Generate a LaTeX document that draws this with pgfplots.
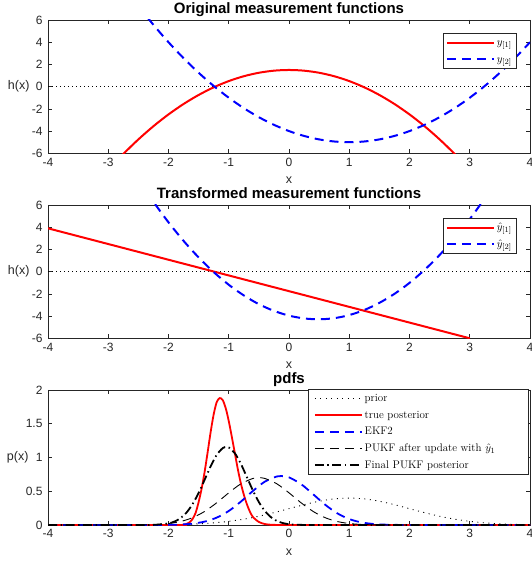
\documentclass[border=0pt]{standalone}
\usepackage{fontspec}
\setsansfont{Liberation Sans}
\usepackage{pgfplots}
\pgfplotsset{compat=1.18}
\definecolor{axgray}{gray}{0.15}
\pgfplotsset{
 base/.style={
  scale only axis, width=482pt,
  xmin=-4, xmax=4, xtick={-4,-3,...,4},
  tick align=inside, major tick length=4pt,
  axis line style={axgray, line width=0.6pt},
  every tick/.style={axgray, line width=0.6pt},
  tick label style={font=\sffamily\fontsize{12}{14}\selectfont, text=axgray},
  /pgf/number format/assume math mode=true,
  xticklabel style={yshift=-1pt}, yticklabel style={xshift=-2pt},
  every axis title/.style={at={(0.5,1)}, anchor=base, yshift=6pt, font=\sffamily\bfseries\fontsize{15}{17}\selectfont},
  every axis x label/.style={at={(axis description cs:0.5,0)}, anchor=base, yshift=-30pt, font=\sffamily\fontsize{12.5}{14}\selectfont, text=axgray},
  every axis y label/.style={at={(axis description cs:0,0.5)}, anchor=east, xshift=-15pt, font=\sffamily\fontsize{12.5}{14}\selectfont, text=axgray},
  xlabel={x},
  legend style={draw=axgray, fill=white, line width=0.6pt, font=\fontsize{11}{13}\selectfont, legend cell align=left, inner xsep=3pt, inner ysep=1pt, nodes={inner sep=2pt, text height=9.3pt, text depth=3.3pt}},
  legend image code/.code={\draw[#1] (0pt,0pt) -- (47pt,0pt);},
 }
}
\begin{document}
\begin{tikzpicture}
% ---------------- Panel 1 ----------------
\begin{axis}[base, at={(48pt,407.7pt)}, anchor=south west, height=133.3pt,
  ymin=-6, ymax=6, ytick={-6,-4,...,6},
  title={Original measurement functions}, ylabel={h(x)},
  legend style={at={(1,1)}, anchor=north east, xshift=-13pt, yshift=-13pt}]
\addplot[black, line width=0.9pt, dash pattern=on 1pt off 3pt, forget plot] coordinates {(-4,0) (4,0)};
\addplot[red, line width=2pt, smooth] coordinates {
(-3,-7.5) (-2.75,-6.0625) (-2.5,-4.75) (-2.25,-3.5625) (-2,-2.5) (-1.75,-1.5625) (-1.5,-0.75) (-1.25,-0.0625)
(-1,0.5) (-0.75,0.9375) (-0.5,1.25) (-0.25,1.4375) (0,1.5) (0.25,1.4375) (0.5,1.25) (0.75,0.9375) (1,0.5)
(1.25,-0.0625) (1.5,-0.75) (1.75,-1.5625) (2,-2.5) (2.25,-3.5625) (2.5,-4.75) (2.75,-6.0625) (3,-7.5)};
\addlegendentry{$y_{[1]}$}
\addplot[blue, line width=2pt, dash pattern=on 9pt off 6pt, smooth] coordinates {
(-2.5,7.25) (-2.25,5.5625) (-2,4) (-1.75,2.5625) (-1.5,1.25) (-1.25,0.0625) (-1,-1) (-0.75,-1.9375)
(-0.5,-2.75) (-0.25,-3.4375) (0,-4) (0.25,-4.4375) (0.5,-4.75) (0.75,-4.9375) (1,-5) (1.25,-4.9375)
(1.5,-4.75) (1.75,-4.4375) (2,-4) (2.25,-3.4375) (2.5,-2.75) (2.75,-1.9375) (3,-1) (3.25,0.0625)
(3.5,1.25) (3.75,2.5625) (4,4)};
\addlegendentry{$y_{[2]}$}
\end{axis}
% ---------------- Panel 2 ----------------
\begin{axis}[base, at={(48pt,222.7pt)}, anchor=south west, height=133.3pt,
  ymin=-6, ymax=6, ytick={-6,-4,...,6},
  title={Transformed measurement functions}, ylabel={h(x)},
  legend style={at={(1,1)}, anchor=north east, xshift=-13pt, yshift=-13pt}]
\addplot[black, line width=0.9pt, dash pattern=on 1pt off 3pt, forget plot] coordinates {(-4,0) (4,0)};
\addplot[red, line width=2pt] coordinates {(-4,3.9) (3,-6)};
\addlegendentry{$\hat{y}_{[1]}$}
\addplot[blue, line width=2pt, dash pattern=on 9pt off 6pt, smooth] coordinates {
(-2.5,8.32) (-2.25,6.29) (-2,4.44) (-1.75,2.77) (-1.5,1.28) (-1.25,-0.04) (-1,-1.18) (-0.75,-2.14)
(-0.5,-2.93) (-0.25,-3.53) (0,-3.96) (0.25,-4.21) (0.5,-4.29) (0.75,-4.19) (1,-3.91) (1.25,-3.45)
(1.5,-2.81) (1.75,-2.00) (2,-1.01) (2.25,0.16) (2.5,1.50) (2.75,3.03) (3,4.73) (3.25,6.61) (3.5,8.66)};
\addlegendentry{$\hat{y}_{[2]}$}
\end{axis}
% ---------------- Panel 3 ----------------
\begin{axis}[base, at={(48pt,36pt)}, anchor=south west, height=135pt,
  ymin=0, ymax=2, ytick={0,0.5,1,1.5,2},
  title={pdfs}, ylabel={p(x)},
  every axis y label/.append style={xshift=-1pt},
  legend style={at={(1,1)}, anchor=north east, xshift=-1pt, yshift=1pt, inner xsep=6pt}]
\addplot[black, line width=0.9pt, dash pattern=on 1pt off 4.5pt, smooth] coordinates {
(-4,0) (-3.5,0) (-3,0.0001) (-2.5,0.0009) (-2,0.0044) (-1.75,0.0091) (-1.5,0.0175) (-1.25,0.0317)
(-1,0.054) (-0.75,0.0863) (-0.5,0.1295) (-0.25,0.1826) (0,0.242) (0.25,0.301) (0.5,0.352) (0.75,0.3867)
(1,0.399) (1.25,0.3867) (1.5,0.352) (1.75,0.301) (2,0.242) (2.25,0.1826) (2.5,0.1295) (2.75,0.0863)
(3,0.054) (3.25,0.0317) (3.5,0.0175) (3.75,0.0091) (4,0.0044)};
\addlegendentry{prior}
\addplot[red, line width=1.8pt, smooth] coordinates {
(-4,0) (-1.85,0) (-1.75,0.005) (-1.7,0.015) (-1.65,0.04) (-1.6,0.09) (-1.55,0.18) (-1.5,0.34)
(-1.45,0.54) (-1.4,0.79) (-1.35,1.08) (-1.3,1.38) (-1.25,1.64) (-1.2,1.82) (-1.15,1.88) (-1.1,1.85)
(-1.05,1.73) (-1.0,1.54) (-0.95,1.31) (-0.9,1.07) (-0.85,0.83) (-0.8,0.62) (-0.75,0.45) (-0.7,0.31)
(-0.65,0.2) (-0.6,0.12) (-0.5,0.045) (-0.4,0.014) (-0.3,0.004) (-0.2,0.001) (0,0) (4,0)};
\addlegendentry{true posterior}
\addplot[blue, line width=1.8pt, dash pattern=on 9pt off 6pt, smooth] coordinates {
(-4,0) (-2.4,0) (-2.0,0.0022) (-1.8,0.0072) (-1.6,0.0204) (-1.4,0.0504) (-1.2,0.1094) (-1.0,0.2076)
(-0.8,0.3454) (-0.6,0.5035) (-0.4,0.6431) (-0.2,0.7195) (-0.13,0.7254) (0,0.7054) (0.2,0.6059)
(0.4,0.456) (0.6,0.3007) (0.8,0.1737) (1.0,0.0879) (1.2,0.039) (1.4,0.0152) (1.6,0.0052) (1.8,0.0015)
(2.0,0.0004) (2.4,0) (4,0)};
\addlegendentry{EKF2}
\addplot[black, line width=0.9pt, dash pattern=on 9pt off 6pt, smooth] coordinates {
(-4,0) (-2.8,0) (-2.4,0.0027) (-2.2,0.0082) (-2.0,0.0219) (-1.8,0.0519) (-1.6,0.1087) (-1.4,0.2012)
(-1.2,0.3293) (-1.0,0.4764) (-0.8,0.6095) (-0.6,0.6893) (-0.5,0.7) (-0.4,0.6893) (-0.2,0.6095)
(0.0,0.4764) (0.2,0.3293) (0.4,0.2012) (0.6,0.1087) (0.8,0.0519) (1.0,0.0219) (1.2,0.0082)
(1.4,0.0027) (1.6,0.0008) (2.0,0) (4,0)};
\addlegendentry{\makebox[156pt][l]{PUKF after update with $\hat{y}_1$}}
\addplot[black, line width=1.8pt, dash pattern=on 9pt off 3.5pt on 1.5pt off 3.5pt, smooth] coordinates {
(-4,0) (-2.6,0) (-2.4,0.0005) (-2.2,0.0041) (-2.0,0.0241) (-1.9,0.0517) (-1.8,0.1022) (-1.7,0.1855)
(-1.6,0.3097) (-1.5,0.4754) (-1.4,0.6709) (-1.3,0.8705) (-1.2,1.0385) (-1.1,1.139) (-1.04,1.1563)
(-1.0,1.1486) (-0.9,1.065) (-0.8,0.9077) (-0.7,0.7115) (-0.6,0.5127) (-0.5,0.3397) (-0.4,0.207)
(-0.3,0.1159) (-0.2,0.0597) (-0.1,0.0282) (0.0,0.0123) (0.2,0.0018) (0.4,0.0002) (0.6,0) (4,0)};
\addlegendentry{Final PUKF posterior}
\end{axis}
\pgfresetboundingbox
\useasboundingbox (0pt,0pt) rectangle (531pt,561pt);
\end{tikzpicture}
\end{document}
